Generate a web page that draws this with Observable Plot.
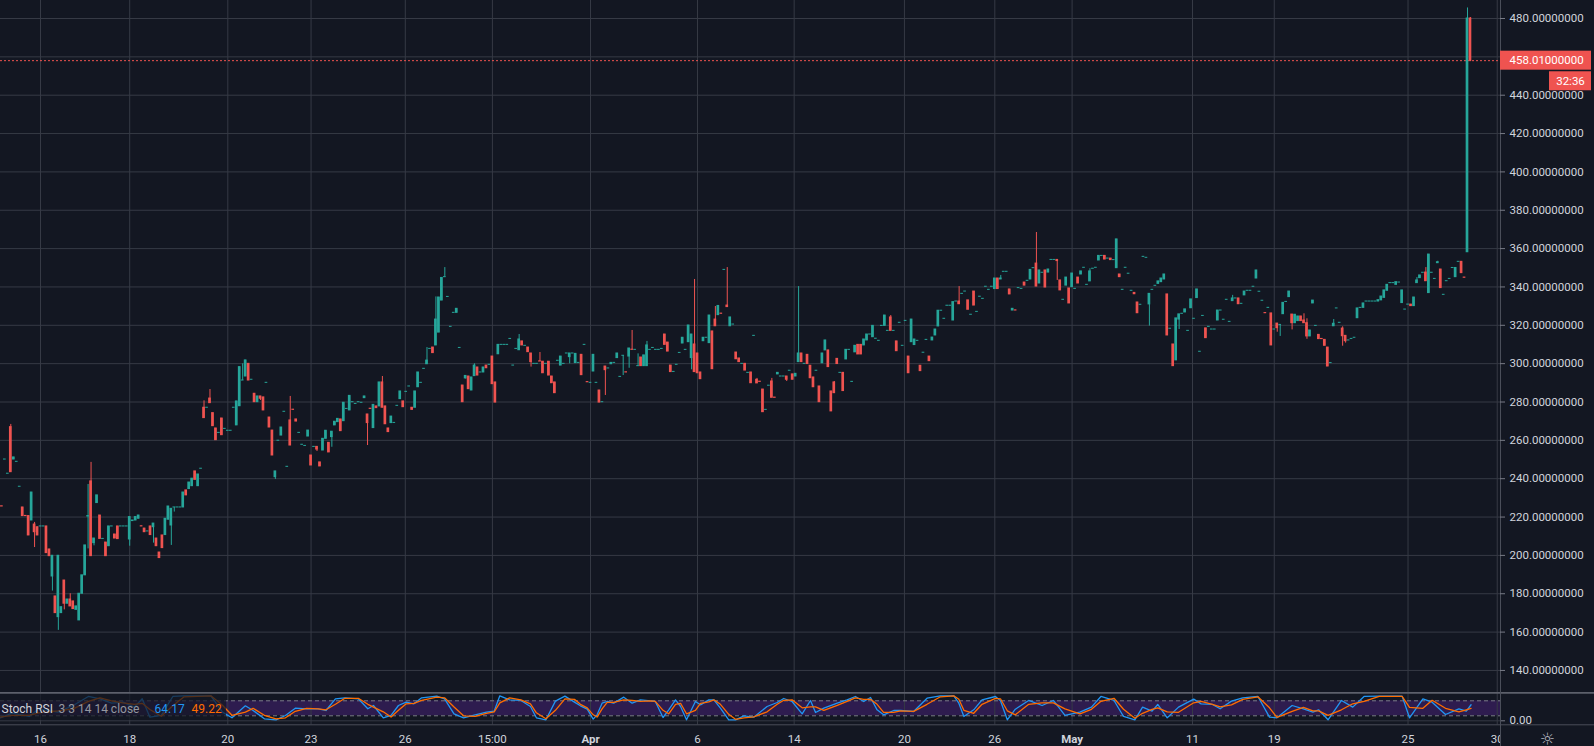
<!DOCTYPE html>
<html><head><meta charset="utf-8">
<script src="https://cdn.jsdelivr.net/npm/d3@7"></script>
<script src="https://cdn.jsdelivr.net/npm/@observablehq/plot@0.6"></script>
<style>
html,body{margin:0;padding:0;background:#131722;overflow:hidden;}
#chart svg{display:block;}
</style></head><body><div id="chart"></div>
<script>
// ---- candles: [open, close, high?, low?] (one row per bar, in order) ----
const segMar15 = [[226,225],[225.6,225.5],[250,250],[242.6,242.6],[266.9,243.4,268.3],[250,251.1],[248.8,248.8],[235.8,235.8],[225,220.5],[220.6,220.5],
[220.5,210.4],[218.2,232.8],[216.1,212.1,217.2,204.1],[214.7,210.4],[215.1,215.1],[215.1,215.1],[215.1,201.2],[203.1,199.6],[189,199.8,199.8,181.4],[178.6,169.9],
[167.8,199.8,199.8,160.9],[169.9,173],[186.9,174.8,186.9,171.6],[174.8,177],[177,173.4,180],[176,172],[171.6,173.4],[166.1,180],[180,189.6],[189.6,205.2],
[220.3,220.5,237,203.4],[238.6,199.6,248.5],[206.4,208.8,208.8,205],[227.3,231.3],[220.8,208.6],[208.6,208.6],[206.7,199.6],[204.8,215.1],[215.1,215.1],[210.9,208.8],
[215.1,208.5],[215.1,215.1],[215.1,215.1],[215.1,215.1]];
const segMar18 = [[208.3,220,220,204.8],[217.9,218.2],[218.2,220],[219.1,220.8],[215.2,215.1],[214,212.1],[212.5,212.5],[215.1,210.6],[214.7,216.6,216.6,206.4],[208.8,204.8],
[201.5,198.6],[210.4,203.8],[210.6,219.1],[218.6,225.5],[215.6,224.3,224.3,205.2],[225,225,225,222.6],[225,225],[225,225],[225,232.8],[233.9,231.3],
[234.6,238],[236.1,240],[243.8,239.4],[236.1,242.2],[245.2,245.2],[277,271.6,280.6],[277,277],[281.8,279.4,286.5],[274.2,267.4],[266.2,260.1],
[263.9,263.9],[271.4,262.7],[266,266],[265,265],[265,265],[277,277],[267.8,280.3],[277.8,298.2],[291.2,291.2,299.9],[293.3,301.7],
[299.9,291.2]];
const segMar21 = [[291.6,291.6],[284.3,279.9],[279.9,282.9],[282.9,281.7,282.9,280.8],[282.4,275.6],[290,290],[271.9,266.7],[265.1,252.1],[240.8,243.8,243.8,239.6],[259.8,259.8],
[262.5,266.7],[274.9,274.9],[246.2,246.2],[270.4,257.3,282.9],[276,275.9],[270.9,269.8],[263.9,263.9],[257.7,257.7],[257.1,257.1],[262,265.1],
[252.1,246.9],[256.6,256.6],[256.6,255.2,256.6,254.2],[248.5,246.4],[254.7,260.8],[260.8,265],[258.7,253.7],[261.7,264.5,264.5,256.4],[267.8,269.7],[269.5,271.2],
[270.9,264.8],[270,279.6],[276.4,276.4],[275.6,283.2],[279.9,279.9],[279,279],[279.9,279.9],[279.6,279.6],[282,282.9],[273.5,269,273.5,257.3]];
const segMar25 = [[276.5,276.4],[266.4,278.5],[277.7,276.8],[277.7,290.2],[290.2,277,293.3],[277.7,268.4],[266.2,264.3],[269,272.4],[269.1,269.1],[278,278],
[281.5,285.5],[280.3,277.3],[285.3,285.3],[288.1,288.1],[277,275.9],[277,285.5],[287.7,295.4],[290,290],[297.3,297.3],[299.7,301.6,308.4],
[307.7,307.7],[308.4,305.5],[309.5,323,334.8],[316.2,334.5],[332.9,344.7],[345.1,345.1,350.1],[334.8,334.8],[319.2,319.2],[326.5,326.5],[326.5,328.6],
[308.2,308.2],[288.6,279.9],[292.3,293.6,293.6,292],[293.3,286.7],[286,292.8],[293.5,299,299.9]];
const segMar28 = [[298,293.8],[295.4,295.4],[295.4,298],[299,297.6],[299.4,299.4],[303.7,289.3],[290.2,279.7],[304.9,309.8],[309.8,309.8],[309.8,309.8],
[309.8,309.8],[312.9,312.9],[299,299],[307.7,307.7],[307,312.6,315.2],[311.6,309.5],[309.3,309.3],[308.4,306],[305.3,300.8,305.3,298.2],[299.9,299.9],
[299.9,299.9],[301.2,301.1,305.8],[301,295],[299.9,299.9],[301,293.8],[293.3,289.8],[290.2,284.6],[301.5,301.5],[299,303.7],[299.9,299.9],
[305.3,305.3],[303.4,305.3,305.3,299.9],[305.3,305.3],[300.3,305.1],[300.4,300.4],[304.6,294],[309.8,309.8],[290.4,290.3]];
const segApr1 = [[290,290],[295.9,304.6],[290,290],[286,279.7],[279.9,279.9],[298.5,296.6,298.5,283.4],[297.5,297.5],[299.7,300.4],[300.4,300.4],[302.9,305.3],
[293.1,293.1],[304.1,304.1,304.1,293.8],[295.5,295.4],[303.7,307.9,307.9,297.6],[307.3,307.2,317.3],[307.2,307.2],[298.7,298.7,305.1,298.7],[303.2,298.7],[298.7,304.3],[298.7,309.5,311.6],
[307.2,307.2],[308.2,308.2],[307.2,307.2],[307.2,307.2],[307.7,307.7],[315.2,309.8],[311,306.3],[299,295.6],[295.7,295.7],[299.4,299.4],
[305.6,305.6],[310.5,313.5],[307.2,307.2],[311.2,319.9],[302.9,315.2,315.2,296.8],[310,295.6,343.9]];
const segApr6 = [[305.3,295],[295.4,291.9],[311.7,313.5],[313.5,313.5],[310.7,325.1],[316.8,297.1],[323,319.5,329.8],[325.3,330.1],[326.1,326],[348.9,348.9],
[330.3,329.5,350.1],[319.5,324.1],[320.4,320.4],[305.8,302.3],[302.7,300.8],[299.9,299.9],[299.9,296.4],[295.2,295.2],[295.4,289.8],[314.5,314.5],
[291.6,289.7,292.3],[290.6,290.5],[286.5,274.7],[275.9,275.9],[288.5,288.5],[290.7,282.2,292.3],[282.3,282.2],[294.4,295.2],[293.3,293.3],[293.3,293.3],
[293.3,291.6,293.3,290.7],[296.3,296.3],[294.4,291.6]];
const segApr14 = [[293.3,294.7],[300.8,305.3,340.2],[305.3,300.8],[299.9,299.9],[304.6,299.8],[298.9,292.4],[292.8,287.7],[296.3,296.3],[288.1,279.9],[300.2,305.3],
[306.9,312.1],[306.9,298.2],[285.5,275.1],[290.2,284.6,290.7],[302.5,299.8],[295.2,295.2],[295.2,285.7],[302.2,307.2],[307.2,307.2],[290.5,290.5],
[305.9,309.3],[309.8,304.8],[309.8,304.8],[309.5,312.6],[312.1,315.2],[315.2,315.2],[313.8,319.7],[313,313],[311.9,311.9],[319.7,319.7],
[319.7,325.1],[317.1,317.1],[324.1,317.1,325.1],[317.1,317.1],[311.6,306.5],[321.3,321.3],[309.3,309.3]];
const segApr20 = [[322.3,322.3],[303.7,295],[311.2,323],[309.7,312.6],[311.9,311.9],[298.9,296.1],[305.7,305.7],[312.4,312.4],[303.7,301.3],[312.1,313.6],
[314.7,317.8],[319.4,327.6],[327.6,327.6],[323.4,323.4],[330.2,330.2],[330.2,330.2],[322.5,332.1],[332.4,332.4],[332.4,331,340.2],[336.4,336.4],
[337.6,337.6],[333,328.1],[325.5,325.5],[337.6,330.3],[327,327],[334.9,334.9],[333.8,333.8],[340.1,340.1],[338.5,338.5],[340.1,340.1]];
const segApr26 = [[338.9,344.4],[344.4,338.9],[343.9,344.4,346],[347.9,347.9],[347.9,347.9],[338.7,336.1],[327.7,328.6],[327.8,327.7],[339.4,339.4],[339,339],
[342.3,340.7],[343.2,343.2],[343.9,348.9],[349.8,349.8],[352.2,340.2,368.4],[341.8,348.6],[347.4,347.4],[348.6,339.7],[347.5,349.1],[354.1,354.1],
[354.1,354.1],[354.1,353.5,354.1,343.4],[343.4,338.2],[333.3,333.3],[340.7,344.9],[339.2,331.4]];
const segMay1 = [[339.9,347],[339,339],[344.9,341.8],[346.5,348.1],[350,350],[341.1,341.1],[342.9,348.1,349.5],[349.5,349.5],[350,350],[353.8,356.2],
[356.2,356.2],[356.2,354.3],[354.8,354.8],[354.8,354],[354,354],[349.8,364.8],[346.5,345.1],[338.5,338.5],[350,350],[346.9,346.9],
[338,338],[336.9,336.2],[331.9,326.3],[330.7,330.7],[355.7,355.7],[355.2,355.2],[330.9,336.4,336.4,319.6],[338.5,338.5],[340.6,340.6],[341.6,342.9],
[342.5,344.4],[343.9,346.5],[336.1,314.7],[318.2,318.2],[310,298.7],[301.7,323.6],[323,325.7,325.7,317.8],[326,326],[326.7,328.3],[317.1,317.1]];
const segMay11 = [[328.9,333.5],[323.4,323.4],[334.2,338.7],[306.2,306.2],[324.9,324.9],[318.4,313.3],[319.2,319.2],[317.8,317.8],[317.8,317.8],[322.5,327.7],
[327.7,327.7],[322.9,322.9],[333.3,333.3],[321.8,321.8],[332.6,334,335.6],[334,334],[334,331],[331.2,331.2],[335.6,337.6],[338,338],
[338,338],[340.1,340.1],[344.4,348.6],[337.5,337.5],[332.8,332.8],[326.4,326.3],[329.1,329.1],[326.2,309.5]];
const segMay19 = [[317.8,317.8],[320.9,318.5,320.9,316.4],[320.2,320.2,320.2,314.2],[325.8,331.7],[332.2,332.2],[334.7,337.6],[325.6,321.1,325.6,317.6],[321.1,325.5],[322.2,324.6],[324.6,322.2],
[322.5,321.1,326],[321.1,314.2,323.4,312.7],[314.2,317.3],[331.4,332.9],[319.7,319.7],[315,312.8],[312.9,312.8],[312.4,309.3],[308.4,298.5],[300.3,300.3],
[319.5,320.8,323],[328.8,328.8],[321.3,321.3],[318.3,314.3,319.2,309.1],[314.5,311.7,314.5,310.7],[312.1,312.1],[312.9,312.9],[313.5,313.5],[323.7,328.8],[329.1,329.1],
[329.1,331.4],[332.4,332.4],[332.4,332.4],[332.4,332.4],[332.4,332.4],[332.4,333.1],[333,335],[334.3,338.2],[338,341.1],[342,342],
[342,342],[341.1,342.5],[342.3,342.3],[331.6,338.2],[328.2,328.2]];
const segMay25 = [[330.8,330.8],[330.8,330],[330,334.5],[342,343.4,344.9],[344.6,346],[347.4,347.4],[347.5,343,350.1],[336.8,356.9],[347.4,347.4],[344.2,344.2],
[352.4,352.9,353.4],[349.1,339.4],[335.9,335.9],[343,343],[344.2,344.2],[349.9,349.9],[345.1,349.9],[353.1,353.1],[353.1,347.2],[344.9,344.8],
[358.1,480,485.5],[480,458.01,480.5,457.5]];

// ---- time axis (bar index of each date label) ----
const tickSlots  = [14,44,77,105,136.7,166,199,235,267.5,304.6,335,361,401.5,429,474,504];
const tickLabels = ["16","18","20","23","26","15:00","Apr","6","14","20","26","May","11","19","25","30"];
const monthLabels = ["Apr","May"];

// ---- price axis ----
const priceTicks = [140,160,180,200,220,240,260,280,300,320,340,360,380,400,420,440,460,480];
const lastPrice = 458.01;
const lastPriceText = "458.01000000";
const countdown = "32:36";
// the 460 label sits under the last-price badge in the reference, so it is not printed
const priceLabelTicks = priceTicks.filter(v => Math.abs(v - lastPrice) > 8);

// ---- Stoch RSI (bar index, %K, %D) ----
const stochSlots = [0.5,4.4,10.2,13.4,19.8,25.0,30.1,34.0,37.9,41.7,45.6,48.2,50.8,54.6,58.5,62.3,71.3,75.2,78.4,82.9,
85.5,89.3,93.2,96.4,99.7,103.5,107.4,110.0,113.2,116.4,120.9,124.1,126.0,129.3,131.9,134.4,137.0,139.6,142.2,147.3,
149.9,153.1,156.3,160.2,164.0,166.6,168.5,171.8,175.6,178.8,180.8,184.0,187.2,190.4,193.6,195.6,197.9,199.9,201.2,202.9,
204.6,206.8,210.2,213.0,215.8,219.2,220.8,223.4,225.3,227.6,229.3,231.3,234.3,236.0,238.8,240.5,242.7,245.5,247.8,250.6,
253.9,258.4,261.8,264.0,266.8,270.2,273.0,274.7,277.5,282.0,285.3,288.1,290.9,293.2,295.4,297.6,301.0,303.3,307.7,312.2,
316.7,321.2,322.9,324.6,327.9,330.7,335.2,336.9,339.2,341.9,346.4,350.9,354.7,358.6,363.6,367.5,370.7,375.1,378.3,382.1,
384.7,387.9,389.8,393.0,396.8,401.9,404.4,408.2,410.8,414.6,418.4,423.5,427.4,429.9,435.0,438.8,442.0,443.9,447.1,451.6,
455.4,459.2,464.3,472.0,474.5,479.0,482.1,486.6,491.1,493.6,495.2];
const stochK = [12,30.6,17.3,48,34.6,61.2,97.3,88,70.6,74.6,54.6,88,14.6,21.3,97.3,100,100,34.6,12,60,
41.3,8,4,21.3,50.6,48,48,41.3,88,92,88,48,61.2,12,21.3,61.2,74.6,67.9,92,98.6,
88,27.9,12,24,34.6,38.6,100,84,81.3,57.3,12,4,78.6,98.6,74.6,60,46.5,6.5,23.9,70.5,
77.2,70.5,94.5,70.5,83.9,79.9,77.2,13.2,43.9,83.9,57.2,3.9,77.2,63.9,83.9,83.9,50.5,3.9,3.9,19.9,
14.5,57.2,73.2,89.2,77.2,27.9,81.2,33.2,50.5,70.5,83.9,97.2,77.2,93.2,43.9,23.9,41.2,41.2,37.2,90.5,
99.9,99.9,70.5,17.2,43.9,83.9,97.2,80,4,46.5,81.3,61.2,81.3,21.3,34.6,54.6,97.3,81.3,17.3,4,
54.6,38.6,65.3,12,54.6,86.6,67.9,65.3,48,78.6,92,97.3,14.6,12,61.2,48,34.6,44,4,81.3,
54.6,97.3,98.6,98.6,12,88,74.6,25.3,48,38.6,64.17];
const stochD = [15,22,22,32,40,48,78,92,80,72,66,70,45,18,60,96,100,62,22,35,
50,22,8,12,38,50,48,44,66,90,90,66,55,36,15,42,68,70,82,95,
92,55,20,18,30,36,72,92,84,68,32,8,42,88,86,66,52,24,15,48,
74,74,84,82,78,80,78,42,28,66,70,28,42,70,76,84,66,26,6,12,
16,36,66,82,84,52,56,56,42,62,78,92,86,86,66,34,34,40,38,66,
96,100,86,42,30,66,90,88,40,24,66,72,72,48,28,46,78,90,46,10,
30,46,52,36,34,72,78,66,56,64,86,96,52,14,38,54,40,40,22,44,
68,78,98,98,54,50,82,50,36,44,49.22];
const stochName = "Stoch RSI", stochParams = "3 3 14 14 close";

// ---- build tables ----
const rows = [].concat(segMar15, segMar18, segMar21, segMar25, segMar28, segApr1, segApr6,
  segApr14, segApr20, segApr26, segMay1, segMay11, segMay19, segMay25);
const candles = rows.map((r, i) => ({
  i, o: r[0], c: r[1],
  h: r[2] ?? Math.max(r[0], r[1]),
  l: r[3] ?? Math.min(r[0], r[1])
}));
const upC = candles.filter(d => d.c >= d.o);
const downC = candles.filter(d => d.c < d.o);
const ticks = tickSlots.map((s, k) => ({s, label: tickLabels[k]}));
const kPts = stochSlots.map((s, k) => ({s, v: stochK[k]}));
const dPts = stochSlots.map((s, k) => ({s, v: stochD[k]}));

// ---- style ----
const W = 1594, MR = 94;
const BG = "#131722", GRID = "#363a45", AXIS = "#4a4e59", TXT = "#d1d4dc";
const UP = "#26a69a", DOWN = "#ef5350";
const FONT = "Roboto, 'Liberation Sans', sans-serif";
const xDomain = [0.54, 505.1];
const xMin = () => xDomain[0], xMax = () => xDomain[1];

const price = Plot.plot({
  width: W, height: 692, marginTop: 0, marginBottom: 0, marginLeft: 0, marginRight: MR,
  style: {background: BG, color: TXT, fontFamily: FONT, fontSize: "11.5px", overflow: "visible"},
  x: {domain: xDomain, axis: null},
  y: {domain: [128.5, 489.39], axis: null},
  marks: [
    Plot.gridY(priceTicks, {stroke: GRID, strokeOpacity: 1}),
    Plot.gridX(tickSlots, {stroke: GRID, strokeOpacity: 1}),
    Plot.ruleY([lastPrice], {stroke: DOWN, strokeDasharray: "2,2", strokeWidth: 1}),
    Plot.ruleX(upC, {x: "i", y1: "l", y2: "h", stroke: UP, strokeWidth: 1}),
    Plot.ruleX(downC, {x: "i", y1: "l", y2: "h", stroke: DOWN, strokeWidth: 1}),
    Plot.rect(upC, {x1: d => d.i - 0.45, x2: d => d.i + 0.45, y1: "o", y2: "c", fill: UP, insetTop: -0.5, insetBottom: -0.5}),
    Plot.rect(downC, {x1: d => d.i - 0.45, x2: d => d.i + 0.45, y1: "o", y2: "c", fill: DOWN, insetTop: -0.5, insetBottom: -0.5}),
    Plot.ruleX([xDomain[1]], {stroke: AXIS}),
    Plot.ruleY(priceTicks, {x1: xMax, x2: xMax, insetRight: -5, stroke: "#787b86"}),
    Plot.axisY(priceLabelTicks, {anchor: "right", tickFormat: d => d.toFixed(8), tickSize: 0, tickPadding: 9, label: null, fill: TXT, fontSize: 11.5}),
    Plot.rect([lastPrice], {x1: xMax, x2: xMax, y1: d => d, y2: d => d, insetRight: -91, insetTop: -9.5, insetBottom: -9.5, fill: DOWN}),
    Plot.rect([lastPrice], {x1: xMax, x2: xMax, y1: d => d, y2: d => d, insetLeft: 49, insetRight: -91, insetTop: 11.1, insetBottom: -30.1, fill: DOWN}),
    Plot.text([lastPrice], {x: xMax, y: d => d, text: () => lastPriceText, dx: 9, textAnchor: "start", fill: "#ffffff", fontSize: 11.5}),
    Plot.text([lastPrice], {x: xMax, y: d => d, text: () => countdown, dx: 70, dy: 20.6, textAnchor: "middle", fill: "#ffffff", fontSize: 11.5})
  ]
});

const stoch = Plot.plot({
  width: W, height: 54, marginTop: 3.3, marginBottom: 25.7, marginLeft: 0, marginRight: MR,
  style: {background: BG, color: TXT, fontFamily: FONT, fontSize: "11.5px", overflow: "visible"},
  x: {domain: xDomain, axis: null},
  y: {domain: [0, 100], axis: null},
  marks: [
    Plot.rect([0], {x1: xMin, x2: xMax, y1: () => 20, y2: () => 80, fill: "#2e1c4f"}),
    Plot.ruleX(tickSlots, {y1: () => 113, y2: () => -16, stroke: GRID}),
    Plot.ruleY([0], {stroke: GRID}),
    Plot.ruleY([20, 80], {stroke: "#787b86", strokeDasharray: "4,3"}),
    Plot.line(kPts, {x: "s", y: "v", stroke: "#2196f3", strokeWidth: 1.3}),
    Plot.line(dPts, {x: "s", y: "v", stroke: "#ff6d00", strokeWidth: 1.3}),
    Plot.rect([0], {x1: xMin, x2: xMin, y1: () => 113.2, y2: () => 1.2, insetRight: -226, fill: BG, fillOpacity: 0.72}),
    Plot.text([stochName], {x: xMin, y: () => 45.2, text: d => d, dx: 1, textAnchor: "start", fill: TXT, fontSize: 12}),
    Plot.text([stochParams], {x: xMin, y: () => 45.2, text: d => d, dx: 58, textAnchor: "start", fill: "#9598a1", fontSize: 12}),
    Plot.text([stochK[stochK.length - 1]], {x: xMin, y: () => 45.2, text: d => d.toFixed(2), dx: 154, textAnchor: "start", fill: "#2196f3", fontSize: 12}),
    Plot.text([stochD[stochD.length - 1]], {x: xMin, y: () => 45.2, text: d => d.toFixed(2), dx: 191, textAnchor: "start", fill: "#ff6d00", fontSize: 12}),
    Plot.ruleY([0], {x1: xMax, x2: xMax, insetRight: -5, stroke: "#787b86"}),
    Plot.axisY([0], {anchor: "right", tickFormat: d => d.toFixed(2), tickSize: 0, tickPadding: 9, label: null, fill: TXT, fontSize: 11.5}),
    Plot.text(ticks.filter(t => !monthLabels.includes(t.label)), {x: "s", y: () => -74.8, text: "label", fill: TXT, fontSize: 11.5}),
    Plot.text(ticks.filter(t => monthLabels.includes(t.label)), {x: "s", y: () => -74.8, text: "label", fill: TXT, fontSize: 11.5, fontWeight: "bold"}),
    Plot.rect([0], {x1: xMax, x2: xMax, y1: () => -16, y2: () => -16, insetTop: 0.7, insetRight: -94, insetBottom: -23, fill: BG}),
    Plot.ruleY([-16], {x1: xMin, x2: xMax, insetRight: -94, stroke: AXIS}),
    Plot.ruleY([111.6], {x1: xMin, x2: xMax, insetRight: -94, stroke: "#5d606b", strokeWidth: 1.6}),
    Plot.ruleX([xDomain[1]], {y1: () => 113.2, y2: () => -110, stroke: AXIS}),
    Plot.text(["\u263C"], {x: xMax, y: () => -74.8, text: d => d, dx: 47, fill: "#b2b5be", fontSize: 17, fontFamily: "DejaVu Sans"})
  ]
});

const root = document.getElementById("chart");
root.appendChild(price);
root.appendChild(stoch);
</script>
</body></html>
